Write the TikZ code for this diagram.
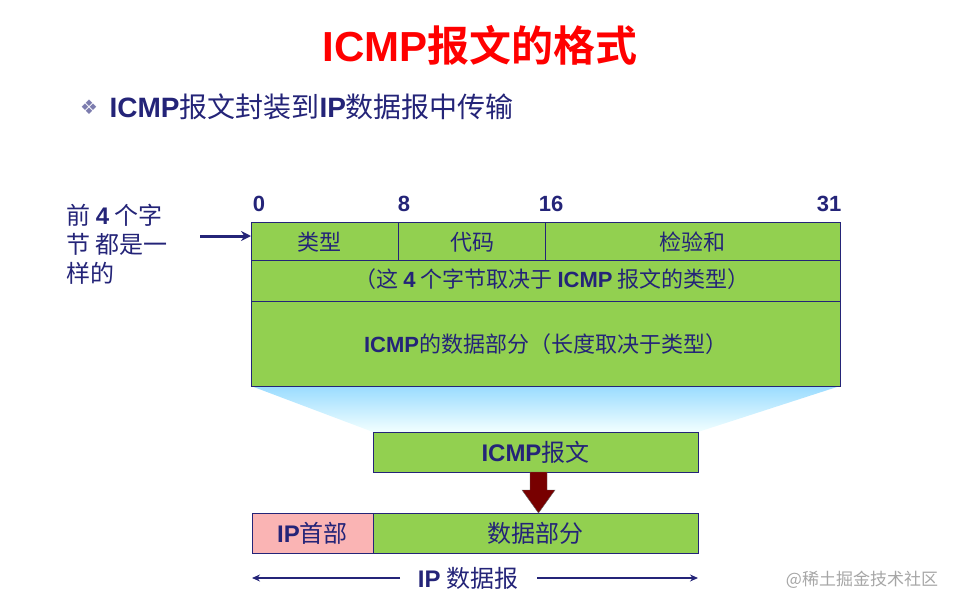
\documentclass[tikz,border=0pt]{standalone}
\usepackage{fontspec}
\setmainfont{Liberation Sans}
\newfontfamily\cjk{Noto Sans CJK SC}
\newfontfamily\cjkb{Noto Sans CJK SC Bold}
\newfontfamily\sym{DejaVu Sans}
\newcommand{\lb}[1]{{\rmfamily\bfseries #1}}
\usetikzlibrary{arrows.meta}
\definecolor{navy}{RGB}{36,36,120}
\definecolor{boxg}{RGB}{146,208,80}
\definecolor{pinkc}{RGB}{250,180,180}
\definecolor{dred}{RGB}{120,0,0}
\tikzset{gbox/.style={draw=navy,line width=1pt,fill=boxg},
 lbl/.style={text=navy,font=\fontsize{22}{26}\selectfont\cjk},
 big/.style={text=navy,font=\fontsize{24}{28}\selectfont\cjk},
 bit/.style={text=navy,font=\fontsize{22}{26}\selectfont\bfseries}}
\begin{document}
\begin{tikzpicture}[x=1pt,y=-1pt]
\useasboundingbox (0,0) rectangle (960,610);
\node (title) at (480,45) {\fontsize{42}{46}\selectfont\color{red}\textbf{ICMP}\cjkb 报文的格式};
\node (bul) at (89,107) {\fontsize{20}{22}\selectfont\color{navy!60}\sym ❖};
\node[anchor=west] (sub) at (106,107) {\fontsize{28}{32}\selectfont\color{navy}\textbf{ICMP}\cjk 报文封装到\lb{IP}数据报中传输};
\shade[top color=blue!35!cyan!40, bottom color=cyan!5] (251,386) -- (840,386) -- (698,432) -- (373,432) -- cycle;
\draw[gbox] (251,222) rectangle (840,386);
\draw[navy,line width=0.8pt] (251,260) -- (840,260) (251,301) -- (840,301) (398,222) -- (398,260) (545,222) -- (545,260);
\node[lbl] (t1) at (319,242) {类型};
\node[lbl] (t2) at (472,242) {代码};
\node[lbl] (t3) at (692,242) {检验和};
\node[lbl] (r2) at (552,279) {（这 \lb{4} 个字节取决于 \lb{ICMP} 报文的类型）};
\node[lbl] (r3) at (545.5,344) {\lb{ICMP}的数据部分（长度取决于类型）};
\node[bit] (b0) at (259,204) {0};
\node[bit] (b8) at (404,204) {8};
\node[bit] (b16) at (551,204) {16};
\node[bit] (b31) at (829,204) {31};
\node[lbl,anchor=north west,align=left,font=\fontsize{24}{29}\selectfont\cjk] (left) at (63,201) {前 \lb{4} 个字\\节 都是一\\样的};
\coordinate (la) at (200,236);
\draw[navy,line width=3pt,-{Stealth[length=10pt,width=10pt]}] (la) -- (251,236);
\node[gbox,minimum width=325pt,minimum height=40pt,inner sep=0pt,big] (msg) at (535.5,452) {\lb{ICMP}报文};
\node[gbox,minimum width=325pt,minimum height=40pt,inner sep=0pt,big] (data) at (535.5,533) {数据部分};
\node[draw=navy,line width=1pt,fill=pinkc,minimum width=121pt,minimum height=40pt,inner sep=0pt,big] (iph) at (312.5,533) {\lb{IP}首部};
\fill[dred,draw=black!60] (530,472) -- (547,472) -- (547,490) -- (555,490) -- (538.5,513) -- (522,490) -- (530,490) -- cycle;
\node[big] (ipd) at (468,578) {\lb{IP} 数据报};
\coordinate (l1) at (252,578);
\coordinate (l2) at (698,578);
\draw[navy,line width=2pt,-{Stealth[length=8pt,width=7pt]}] (400,578) -- (l1);
\draw[navy,line width=2pt,-{Stealth[length=8pt,width=7pt]}] (537,578) -- (l2);
\node[text=gray!70,font=\fontsize{17}{20}\selectfont\cjk] (wm) at (862,580) {@稀土掘金技术社区};
\end{tikzpicture}
\end{document}
